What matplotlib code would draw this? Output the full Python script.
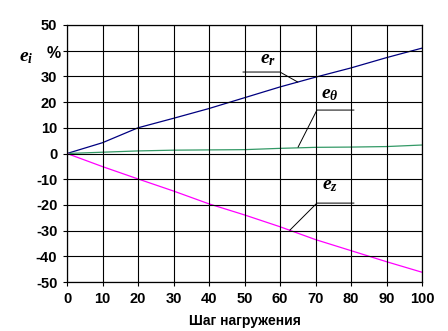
import matplotlib
matplotlib.use("Agg")
import matplotlib.pyplot as plt

steps = [0, 10, 20, 30, 40, 50, 60, 70, 80, 90, 100]
e_r = [0, 4.2, 10.0, 13.7, 17.5, 21.7, 25.9, 29.7, 33.3, 37.3, 41.0]
e_theta = [0, 0.5, 1.0, 1.3, 1.4, 1.5, 2.0, 2.4, 2.5, 2.7, 3.3]
e_z = [0, -5.1, -9.9, -14.6, -19.6, -23.9, -28.5, -33.5, -37.8, -42.1, -46.2]
xticks = [0, 10, 20, 30, 40, 50, 60, 70, 80, 90, 100]
yticks = [-50, -40, -30, -20, -10, 0, 10, 20, 30, 40, 50]
yticklabels = ['-50', '-40', '-30', '-20', '-10', '0', '10', '20', '30', '', '50']

plt.rcParams['mathtext.fontset'] = 'custom'
plt.rcParams['mathtext.it'] = 'Liberation Serif:italic:bold'
plt.rcParams['mathtext.rm'] = 'Liberation Serif:italic:bold'

tick_font = ['Liberation Sans Narrow', 'Liberation Sans', 'DejaVu Sans']

fig = plt.figure(figsize=(4.48, 3.31), dpi=100)
ax = fig.add_axes([67/448, 1-282/331, (422-67)/448, (282-25)/331])

ax.plot(steps, e_r, color='#000080', lw=0.9)
ax.plot(steps, e_theta, color='#339966', lw=0.9)
ax.plot(steps, e_z, color='#FF00FF', lw=0.9)

ax.set_xlim(0, 100)
ax.set_ylim(-50, 50)
ax.set_xticks(xticks)
ax.set_yticks(yticks)
ax.set_xticklabels([str(v) for v in xticks], family=tick_font, weight='bold', fontsize=10.5)
ax.set_yticklabels(yticklabels, family=tick_font, weight='bold', fontsize=10.5)
ax.tick_params(length=3, width=0.8, color='black', pad=4)
ax.grid(True, color='black', lw=0.8)
ax.set_axisbelow(False)
for s in ax.spines.values():
    s.set_linewidth(0.9)
    s.set_color('black')

ax.set_xlabel('Шаг нагружения', family=tick_font, weight='bold', fontsize=10, labelpad=6)

# y label
fig.text(26/448, 1-56/331, r'$e_i$', fontsize=14, ha='center', va='center')
fig.text(54/448, 1-53/331, '%', family=tick_font, weight='bold', fontsize=11.5, ha='center', va='center')

# annotations
ax.text(56.5, 37.0, r'$e_r$', fontsize=14, ha='center', va='center')
ax.plot([49.6, 60.0, 65.0], [31.7, 31.7, 27.8], color='black', lw=0.7)
ax.text(74.0, 23.5, r'$e_\theta$', fontsize=14, ha='center', va='center')
ax.plot([80.8, 70.4, 65.1], [16.9, 16.9, 2.5], color='black', lw=0.7)
ax.text(74.0, -12.0, r'$e_z$', fontsize=14, ha='center', va='center')
ax.plot([80.8, 70.4, 62.8], [-19.3, -19.3, -29.8], color='black', lw=0.7)

fig.savefig('out.png', dpi=100)
